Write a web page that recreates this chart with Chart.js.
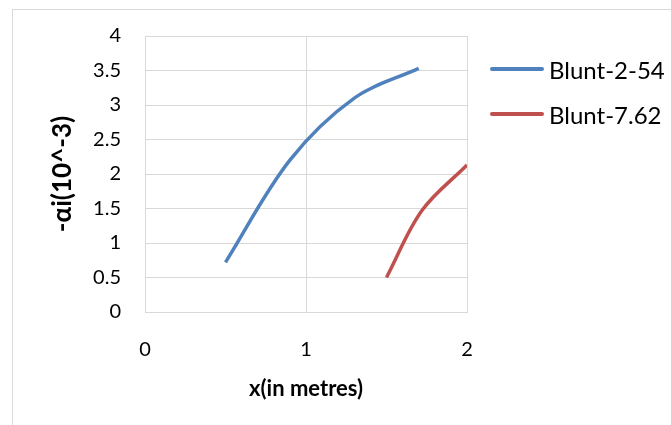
<!DOCTYPE html>
<html>
<head>
<meta charset="utf-8">
<script src="https://cdn.jsdelivr.net/npm/chart.js@4/dist/chart.umd.min.js"></script>
<style>
  body { margin: 0; background: #fff; font-family: Lato, "Open Sans", sans-serif; }
  #frame { position: absolute; left: 12px; top: 9px; width: 700px; height: 450px; border: 1px solid #d9d9d9; }
  #wrap { position: absolute; left: 0; top: 0; width: 671px; height: 425px; }
  #legend { position: absolute; left: 490px; top: 54px; font-size: 24px; color: #000; }
  #legend div { display: flex; align-items: center; height: 30px; margin-bottom: 15px; }
  #legend span.swatch { display: inline-block; width: 54px; height: 4px; border-radius: 2px; margin-right: 5px; }
</style>
</head>
<body>
<div id="frame"></div>
<div id="wrap"><canvas id="chart" width="671" height="425"></canvas></div>
<div id="legend"></div>
<script>
// values
var blunt254X = [0.5, 0.9, 1.3, 1.7];
var blunt254Y = [0.72, 2.2, 3.1, 3.53];
var blunt762X = [1.5, 1.72, 2.0];
var blunt762Y = [0.5, 1.47, 2.13];
var seriesNames = ['Blunt-2-54', 'Blunt-7.62'];
var seriesColors = ['#4f81bd', '#c0504d'];

function toPoints(xs, ys) {
  return xs.map(function (x, i) { return {x: x, y: ys[i]}; });
}

var tickFont = {family: 'Lato', size: 20};
var gridColor = '#d9d9d9';

var chart = new Chart(document.getElementById('chart'), {
  type: 'line',
  data: {
    datasets: [{
      label: seriesNames[0],
      data: toPoints(blunt254X, blunt254Y),
      borderColor: seriesColors[0],
      borderWidth: 3.5,
      pointRadius: 0,
      tension: 0.35
    }, {
      label: seriesNames[1],
      data: toPoints(blunt762X, blunt762Y),
      borderColor: seriesColors[1],
      borderWidth: 3.5,
      pointRadius: 0,
      tension: 0.35
    }]
  },
  options: {
    responsive: false,
    animation: false,
    layout: { padding: {left: 0, top: 36, right: 204, bottom: 0} },
    plugins: { legend: {display: false}, tooltip: {enabled: false} },
    scales: {
      x: {
        type: 'linear',
        min: 0, max: 2,
        ticks: { stepSize: 1, font: tickFont, color: '#000', padding: 26,
                 callback: function (v) { return String(v); } },
        grid: { color: gridColor, drawTicks: false },
        border: { color: gridColor },
        title: { display: true, text: 'x(in metres)', font: {family: 'Lato', size: 22, weight: 'bold'},
                 color: '#000', padding: {top: 0, bottom: 23} },
        afterFit: function (s) { s.height = 113; }
      },
      y: {
        min: 0, max: 4,
        ticks: { stepSize: 0.5, font: tickFont, color: '#000', padding: 24,
                 callback: function (v) { return String(v); } },
        grid: { color: gridColor, drawTicks: false },
        border: { color: gridColor },
        title: { display: true, text: '-\u03b1i(10^-3)', font: {family: 'Lato', size: 26, weight: 'bold'},
                 color: '#000', padding: {top: 47, bottom: 0} },
        afterFit: function (s) { s.width = 145; }
      }
    }
  }
});

// legend on the right, same as the spreadsheet one
var legend = document.getElementById('legend');
chart.data.datasets.forEach(function (ds) {
  var row = document.createElement('div');
  var sw = document.createElement('span');
  sw.className = 'swatch';
  sw.style.background = ds.borderColor;
  row.appendChild(sw);
  row.appendChild(document.createTextNode(ds.label));
  legend.appendChild(row);
});
</script>
</body>
</html>
